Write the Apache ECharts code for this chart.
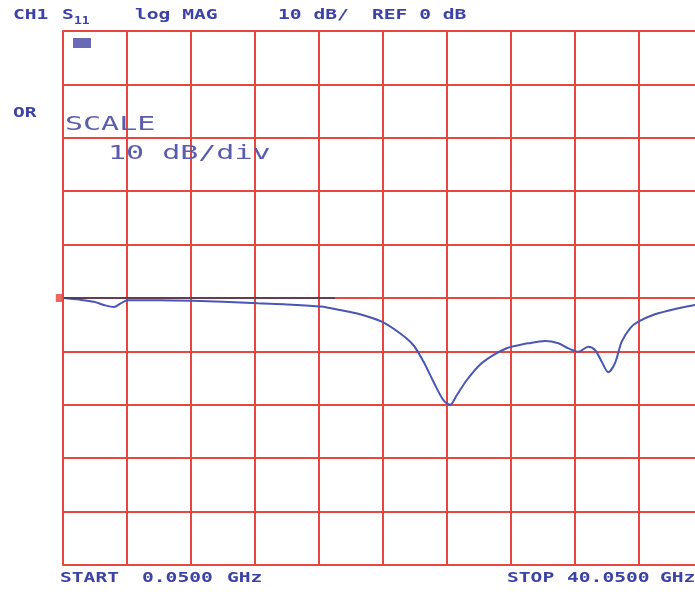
<!DOCTYPE html>
<html>
<head>
<meta charset="utf-8">
<script src="https://cdn.jsdelivr.net/npm/echarts@6/dist/echarts.min.js"></script>
<style>
html,body{margin:0;padding:0;background:#fff;}
#chart{width:695px;height:596px;}
</style>
</head>
<body>
<div id="chart"></div>
<script>
// Frequency (GHz) and S11 magnitude (dB)
const freqGHz = [0.05, 1.0, 1.93, 2.55, 3.18, 3.61, 4.05, 6.0, 8.11, 10.0, 12.18, 14.0, 16.11, 17.31, 18.56, 19.92, 21.06, 21.89, 22.52, 23.14, 23.77, 24.19, 24.61, 25.23, 26.06, 26.89, 27.73, 28.4, 29.08, 30.13, 30.96, 31.58, 32.21, 32.83, 33.25, 33.67, 34.08, 34.5, 34.92, 35.44, 35.96, 37.0, 38.25, 39.5, 40.05];
const s11dB   = [0, -0.3, -0.7, -1.3, -1.7, -1.0, -0.4, -0.4, -0.5, -0.7, -1.0, -1.2, -1.6, -2.25, -3.05, -4.44, -6.61, -8.8, -11.86, -15.6, -19.1, -20.0, -18.2, -15.4, -12.5, -10.7, -9.4, -8.9, -8.48, -8.05, -8.48, -9.42, -10.06, -9.12, -9.74, -11.93, -13.9, -12.2, -8.18, -5.67, -4.44, -3.05, -2.06, -1.31, -1.2];
// reference line (dark trace at REF 0 dB) and reference marker
const refLineGHz = [0.05, 17.0];
const refLineDB  = [0, 0];
const refMarker  = [[0.05, 0]];
// axis setup values
const xRange = [0, 40], xStep = 4;
const yRange = [-50, 50], yStep = 10;

const headerLabels = [
  {t: 'CH1', x: 13, y: 15},
  {t: 'S', x: 62, y: 15},
  {t: 'log MAG', x: 135, y: 15},
  {t: '10 dB/', x: 278, y: 15},
  {t: 'REF 0 dB', x: 372, y: 15},
  {t: 'OR', x: 13, y: 113},
  {t: 'START', x: 60, y: 578},
  {t: '0.0500', x: 142, y: 578},
  {t: 'GHz', x: 227, y: 578},
  {t: 'STOP', x: 507, y: 578},
  {t: '40.0500', x: 567, y: 578},
  {t: 'GHz', x: 660, y: 578}
];
const bigLabels = [
  {t: 'SCALE', x: 65, y: 125},
  {t: '10 dB/div', x: 108, y: 154}
];

const gridColor = '#e8473f';
const textBlue = '#3d42a8';

const graphics = [];
headerLabels.forEach(l => graphics.push({
  type: 'text', x: l.x, y: l.y, scaleX: 1.4, z: 100,
  style: {text: l.t, font: 'bold 14px "DejaVu Sans Mono"', fill: textBlue, textVerticalAlign: 'middle', textAlign: 'left'}
}));
graphics.push({
  type: 'text', x: 74, y: 21, scaleX: 1.3, z: 100,
  style: {text: '11', font: 'bold 10px "DejaVu Sans Mono"', fill: textBlue, textVerticalAlign: 'middle'}
});
graphics.push({type: 'rect', x: 73, y: 38, z: 100, shape: {width: 18, height: 10}, style: {fill: '#4d50aa', opacity: 0.85}});
bigLabels.forEach(l => graphics.push({
  type: 'text', x: l.x, y: l.y, scaleX: 1.5, z: 100,
  style: {text: l.t, font: '20px "DejaVu Sans Mono"', fill: '#5a5cae', textVerticalAlign: 'middle', textAlign: 'left'}
}));

const chart = echarts.init(document.getElementById('chart'), null, {renderer: 'canvas'});
chart.setOption({
  backgroundColor: '#ffffff',
  animation: false,
  grid: {left: 63, top: 31, width: 640, height: 534, containLabel: false, outerBoundsMode: 'none'},
  xAxis: {
    type: 'value', min: xRange[0], max: xRange[1], interval: xStep,
    axisLabel: {show: false}, axisTick: {show: false},
    axisLine: {show: true, lineStyle: {color: gridColor, width: 2}},
    splitLine: {show: true, lineStyle: {color: gridColor, width: 2}}
  },
  yAxis: {
    type: 'value', min: yRange[0], max: yRange[1], interval: yStep,
    axisLabel: {show: false}, axisTick: {show: false},
    axisLine: {show: true, lineStyle: {color: gridColor, width: 2}},
    splitLine: {show: true, lineStyle: {color: gridColor, width: 2}}
  },
  graphic: graphics,
  series: [
    {
      name: 'S11', type: 'line', showSymbol: false, smooth: 0.3,
      data: freqGHz.map((f, i) => [f, s11dB[i]]),
      lineStyle: {color: '#4a55b8', width: 2}, z: 3
    },
    {
      name: 'REF', type: 'line', showSymbol: false,
      data: refLineGHz.map((f, i) => [f, refLineDB[i]]),
      lineStyle: {color: '#3a3a50', width: 2, opacity: 0.75}, z: 4
    },
    {
      name: 'refMarker', type: 'scatter', data: refMarker,
      symbol: 'rect', symbolSize: [8, 8], symbolOffset: [-4, 0],
      itemStyle: {color: '#e0453d'}, z: 5
    }
  ]
});
</script>
</body>
</html>
